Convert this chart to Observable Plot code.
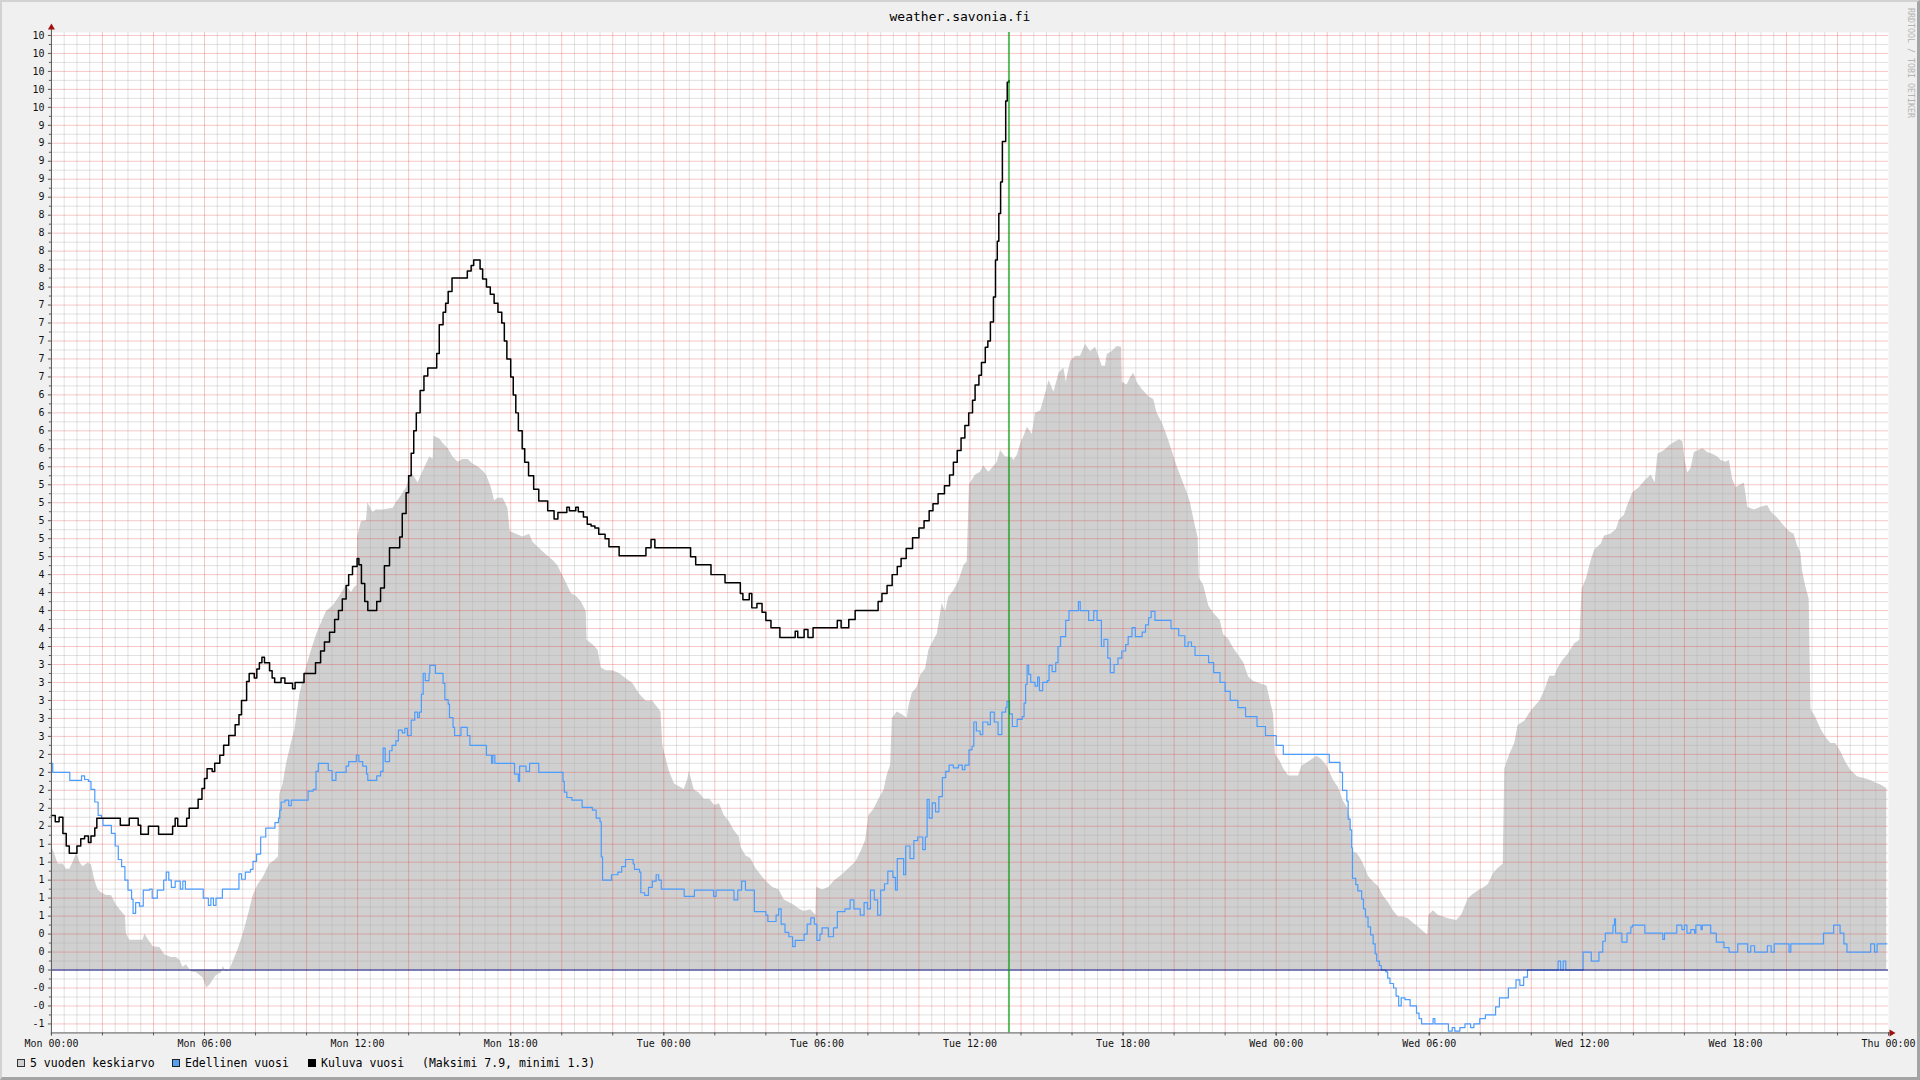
<!DOCTYPE html>
<html>
<head>
<meta charset="utf-8">
<script src="https://cdn.jsdelivr.net/npm/d3@7"></script>
<script src="https://cdn.jsdelivr.net/npm/@observablehq/plot@0.6"></script>
<style>
  html, body { margin: 0; padding: 0; overflow: hidden; background: #f0f0f0; }
  #frame { position: relative; width: 1920px; height: 1080px; box-sizing: border-box;
    border-top: 2px solid #d2d2d2; border-left: 2px solid #d2d2d2;
    border-right: 3px solid #a4a4a4; border-bottom: 3px solid #a4a4a4;
    font-family: "DejaVu Sans Mono", monospace; color: #000; }
  #title { position: absolute; top: 7px; left: -2px; width: 1920px; text-align: center; font-size: 13px; line-height: 16px; }
  #chart { position: absolute; top: 24px; left: -2px; }
  #legend { position: absolute; top: 1053px; left: -2px; font-size: 11.5px; line-height: 16px; }
  #legend .box { position: absolute; top: 4px; width: 8px; height: 8px; box-sizing: border-box; border: 1px solid #000; }
  #legend .txt { position: absolute; top: 0; white-space: pre; }
  #credit { position: absolute; top: 6px; left: 1904px; writing-mode: vertical-rl; font-size: 8.3px; color: #b4b4b4; white-space: pre; }
</style>
</head>
<body>
<div id="frame">
  <div id="title"></div>
  <div id="chart"></div>
  <div id="legend"></div>
  <div id="credit">RRDTOOL / TOBI OETIKER</div>
</div>
<script>
// ---- texts ----
const chartTitle = "weather.savonia.fi";
const xTickHours = [0, 6, 12, 18, 24, 30, 36, 42, 48, 54, 60, 66, 72];
const xTickLabels = ["Mon 00:00", "Mon 06:00", "Mon 12:00", "Mon 18:00", "Tue 00:00", "Tue 06:00",
  "Tue 12:00", "Tue 18:00", "Wed 00:00", "Wed 06:00", "Wed 12:00", "Wed 18:00", "Thu 00:00"];
const seriesNames = ["5 vuoden keskiarvo", "Edellinen vuosi", "Kuluva vuosi"];
const legendNote = "(Maksimi 7.9, minimi 1.3)";
const nowHour = 37.53;            // green "now" marker, hours after Mon 00:00
const xDomain = [0, 72];
const yDomain = [-0.7, 10.433];

// ---- 5-year average (grey area): [hours, value] ----
const avgSeries = [
[0.00,1.38],[0.13,1.29],[0.26,1.18],[0.46,1.18],[0.59,1.12],[0.72,1.12],[0.85,1.20],[0.98,1.29],[1.05,1.26],[1.11,1.20],
[1.24,1.15],[1.44,1.19],[1.57,1.17],[1.70,1.00],[1.83,0.89],[1.96,0.86],[2.16,0.83],[2.35,0.83],[2.55,0.72],[2.81,0.63],
[2.90,0.60],[2.94,0.40],[3.07,0.33],[3.59,0.33],[3.66,0.40],[3.79,0.34],[3.99,0.26],[4.25,0.25],[4.44,0.17],[4.70,0.14],
[4.90,0.14],[5.03,0.11],[5.16,0.03],[5.29,0.06],[5.49,-0.02],[5.69,-0.03],[5.95,-0.09],[6.08,-0.20],[6.21,-0.17],[6.34,-0.11],
[6.47,-0.06],[6.67,-0.03],[6.73,0.04],[6.86,-0.02],[6.99,0.00],[7.12,0.09],[7.32,0.23],[7.52,0.40],[7.71,0.60],[7.91,0.83],
[8.10,0.95],[8.30,1.03],[8.56,1.18],[8.76,1.22],[8.90,1.26],[8.95,1.95],[9.08,2.07],[9.22,2.30],[9.41,2.53],[9.54,2.67],
[9.74,3.07],[9.93,3.30],[10.13,3.50],[10.39,3.73],[10.52,3.82],[10.78,3.99],[11.04,4.05],[11.30,4.16],[11.56,4.28],[11.76,4.20],
[11.89,4.26],[11.98,4.28],[12.00,4.82],[12.15,4.99],[12.35,5.00],[12.40,5.20],[12.60,5.09],[12.74,5.12],[13.00,5.12],[13.39,5.14],
[13.52,5.20],[13.72,5.28],[13.92,5.37],[14.11,5.54],[14.24,5.48],[14.37,5.42],[14.50,5.51],[14.70,5.63],[14.83,5.71],[14.96,5.68],
[14.99,5.94],[15.22,5.91],[15.35,5.86],[15.55,5.80],[15.74,5.71],[15.94,5.65],[16.13,5.68],[16.33,5.68],[16.52,5.63],[16.72,5.60],
[16.92,5.55],[17.05,5.51],[17.24,5.37],[17.37,5.22],[17.50,5.25],[17.70,5.25],[17.89,5.14],[17.98,4.88],[18.22,4.85],[18.48,4.82],
[18.74,4.85],[18.87,4.76],[19.13,4.69],[19.39,4.62],[19.65,4.56],[19.85,4.50],[19.98,4.42],[20.18,4.31],[20.37,4.19],[20.57,4.16],
[20.76,4.10],[20.96,3.99],[20.99,3.67],[21.22,3.62],[21.42,3.56],[21.55,3.36],[21.75,3.33],[22.00,3.33],[22.26,3.30],[22.52,3.24],
[22.78,3.19],[23.05,3.07],[23.31,2.99],[23.57,2.99],[23.89,2.87],[23.96,2.50],[24.09,2.35],[24.22,2.21],[24.42,2.07],[24.61,2.04],
[24.80,2.01],[24.94,2.12],[25.00,2.21],[25.20,2.00],[25.39,1.97],[25.59,1.90],[25.80,1.90],[26.00,1.83],[26.18,1.85],[26.37,1.72],
[26.57,1.65],[26.76,1.55],[26.96,1.48],[27.02,1.37],[27.22,1.27],[27.41,1.24],[27.61,1.13],[27.80,1.06],[28.00,0.99],[28.26,0.92],
[28.52,0.89],[28.72,0.78],[28.91,0.75],[29.11,0.72],[29.30,0.68],[29.50,0.65],[29.76,0.67],[29.96,0.61],[29.99,0.92],[30.22,0.89],
[30.48,0.92],[30.68,0.99],[31.00,1.06],[31.26,1.13],[31.52,1.20],[31.72,1.31],[31.91,1.44],[32.04,1.72],[32.24,1.79],[32.43,1.90],
[32.63,2.00],[32.76,2.17],[32.89,2.28],[32.96,2.80],[33.15,2.87],[33.35,2.84],[33.54,2.80],[33.61,2.94],[33.74,3.08],[33.94,3.15],
[34.07,3.28],[34.26,3.35],[34.39,3.56],[34.52,3.63],[34.72,3.74],[34.91,4.08],[35.04,3.98],[35.17,4.15],[35.37,4.22],[35.57,4.33],
[35.76,4.50],[35.89,4.54],[35.98,5.40],[36.22,5.51],[36.41,5.54],[36.54,5.61],[36.74,5.54],[36.87,5.58],[37.07,5.65],[37.20,5.78],
[37.39,5.71],[37.52,5.71],[37.65,5.70],[37.72,5.67],[37.86,5.73],[37.99,5.86],[38.12,5.94],[38.25,6.04],[38.44,5.96],[38.57,6.20],
[38.77,6.22],[38.96,6.41],[39.10,6.56],[39.29,6.43],[39.49,6.64],[39.68,6.70],[39.77,6.54],[39.94,6.77],[40.14,6.83],[40.33,6.83],
[40.53,6.96],[40.73,6.88],[40.92,6.93],[41.05,6.83],[41.18,6.72],[41.31,6.72],[41.38,6.85],[41.57,6.88],[41.77,6.94],[41.94,6.93],
[41.97,6.54],[42.16,6.51],[42.29,6.59],[42.42,6.64],[42.55,6.54],[42.75,6.46],[43.01,6.38],[43.20,6.35],[43.33,6.20],[43.53,6.09],
[43.73,5.94],[43.92,5.78],[44.12,5.60],[44.31,5.46],[44.51,5.31],[44.64,5.20],[44.77,5.02],[44.94,4.81],[44.99,4.36],[45.16,4.28],
[45.36,4.05],[45.55,3.97],[45.81,3.89],[45.94,3.73],[46.14,3.68],[46.33,3.58],[46.53,3.50],[46.73,3.42],[46.92,3.26],[47.12,3.21],
[47.44,3.18],[47.64,3.16],[47.77,3.00],[47.90,2.84],[47.97,2.40],[48.16,2.32],[48.29,2.24],[48.49,2.16],[48.88,2.16],[49.01,2.27],
[49.20,2.30],[49.40,2.34],[49.60,2.38],[49.79,2.34],[49.99,2.27],[50.12,2.19],[50.25,2.11],[50.44,2.03],[50.63,1.88],[50.83,1.79],
[50.90,1.70],[50.99,1.32],[51.16,1.30],[51.29,1.25],[51.42,1.18],[51.62,1.04],[51.81,0.98],[52.01,0.93],[52.20,0.82],[52.40,0.75],
[52.59,0.66],[52.79,0.59],[52.98,0.59],[53.18,0.57],[53.38,0.52],[53.57,0.48],[53.77,0.43],[53.94,0.39],[53.99,0.61],[54.16,0.66],
[54.35,0.61],[54.55,0.59],[54.75,0.57],[55.07,0.55],[55.27,0.61],[55.40,0.70],[55.53,0.79],[55.72,0.84],[55.92,0.88],[56.11,0.91],
[56.31,0.95],[56.51,1.07],[56.70,1.13],[56.90,1.18],[56.96,2.24],[57.16,2.40],[57.35,2.52],[57.48,2.72],[57.75,2.77],[57.94,2.86],
[58.14,2.93],[58.33,2.99],[58.53,3.11],[58.72,3.27],[58.92,3.27],[59.05,3.36],[59.25,3.45],[59.44,3.51],[59.70,3.63],[59.90,3.67],
[59.99,4.24],[60.16,4.35],[60.35,4.56],[60.48,4.67],[60.74,4.74],[60.87,4.83],[61.11,4.85],[61.33,4.90],[61.46,5.01],[61.65,5.06],
[61.78,5.17],[61.98,5.31],[62.24,5.37],[62.44,5.44],[62.70,5.51],[62.85,5.42],[62.96,5.74],[63.22,5.78],[63.41,5.83],[63.61,5.87],
[63.81,5.90],[63.94,5.88],[64.03,5.67],[64.13,5.53],[64.26,5.58],[64.39,5.76],[64.72,5.80],[64.91,5.76],[65.11,5.74],[65.31,5.71],
[65.44,5.67],[65.63,5.65],[65.76,5.67],[65.89,5.46],[66.02,5.37],[66.35,5.42],[66.48,5.15],[66.74,5.12],[67.00,5.15],[67.26,5.17],
[67.39,5.10],[67.65,5.03],[67.91,4.94],[68.11,4.88],[68.30,4.85],[68.43,4.72],[68.56,4.65],[68.63,4.44],[68.76,4.26],[68.89,4.13],
[68.96,2.90],[69.15,2.81],[69.35,2.68],[69.54,2.59],[69.74,2.52],[69.93,2.52],[70.13,2.43],[70.33,2.31],[70.52,2.22],[70.78,2.15],
[71.04,2.13],[71.30,2.11],[71.50,2.08],[71.70,2.06],[71.93,2.02]
];

// ---- previous year (blue line): [hours, value] ----
const prevSeries = [
[0.00,2.30],[0.05,2.20],[0.72,2.11],[1.18,2.16],[1.30,2.12],[1.45,2.10],[1.55,2.01],[1.70,1.87],[1.83,1.72],[1.96,1.69],
[2.02,1.61],[2.35,1.52],[2.50,1.38],[2.62,1.23],[2.75,1.15],[2.88,1.00],[3.00,0.89],[3.14,0.79],[3.20,0.63],[3.30,0.75],
[3.45,0.71],[3.60,0.89],[3.85,0.90],[3.95,0.80],[4.15,0.89],[4.40,1.00],[4.50,1.09],[4.60,1.00],[4.70,0.92],[4.85,0.99],
[5.05,0.90],[5.15,0.99],[5.25,0.90],[5.95,0.80],[6.15,0.72],[6.25,0.80],[6.35,0.72],[6.45,0.80],[6.70,0.90],[7.35,1.07],
[7.45,1.01],[7.60,1.09],[7.80,1.12],[7.90,1.21],[8.04,1.29],[8.20,1.48],[8.40,1.58],[8.76,1.64],[8.90,1.69],[8.95,1.78],
[9.00,1.87],[9.15,1.89],[9.30,1.83],[9.40,1.89],[10.06,1.99],[10.26,2.01],[10.37,2.21],[10.46,2.30],[10.85,2.22],[11.00,2.11],
[11.15,2.20],[11.55,2.27],[11.65,2.32],[11.95,2.39],[12.05,2.32],[12.20,2.27],[12.35,2.18],[12.40,2.11],[12.75,2.16],[12.90,2.21],
[13.00,2.47],[13.08,2.32],[13.25,2.44],[13.35,2.50],[13.50,2.55],[13.60,2.67],[13.75,2.64],[13.85,2.69],[13.95,2.61],[14.10,2.78],
[14.24,2.87],[14.35,2.81],[14.42,2.87],[14.50,3.07],[14.57,3.30],[14.65,3.22],[14.80,3.30],[14.83,3.39],[15.05,3.30],[15.35,3.19],
[15.42,3.01],[15.55,2.96],[15.60,2.81],[15.74,2.70],[15.80,2.61],[16.05,2.70],[16.30,2.61],[16.40,2.50],[17.05,2.39],[17.25,2.30],
[17.30,2.39],[17.38,2.30],[18.15,2.18],[18.30,2.10],[18.35,2.27],[18.60,2.21],[18.74,2.30],[19.10,2.20],[20.05,2.10],[20.10,1.98],
[20.20,1.92],[20.40,1.89],[20.80,1.81],[21.20,1.78],[21.35,1.69],[21.50,1.65],[21.55,1.26],[21.60,1.00],[21.95,1.06],[22.20,1.09],
[22.35,1.15],[22.50,1.23],[22.80,1.18],[22.85,1.12],[23.05,1.09],[23.10,0.86],[23.25,0.83],[23.40,0.92],[23.55,0.99],[23.70,1.06],
[23.80,1.00],[23.90,0.90],[24.80,0.82],[25.20,0.89],[25.95,0.82],[26.05,0.89],[26.75,0.78],[26.90,0.89],[27.05,0.99],[27.20,0.89],
[27.55,0.65],[28.00,0.61],[28.08,0.54],[28.40,0.61],[28.50,0.68],[28.60,0.51],[28.75,0.42],[28.90,0.37],[29.05,0.26],[29.15,0.33],
[29.50,0.40],[29.62,0.51],[29.76,0.58],[29.90,0.51],[30.00,0.33],[30.12,0.40],[30.20,0.47],[30.45,0.37],[30.65,0.47],[30.80,0.65],
[31.10,0.68],[31.30,0.78],[31.45,0.68],[31.70,0.61],[31.85,0.75],[31.98,0.68],[32.10,0.89],[32.25,0.78],[32.38,0.61],[32.50,0.89],
[32.65,0.96],[32.78,1.10],[32.98,1.03],[33.08,0.89],[33.15,1.24],[33.40,1.06],[33.48,1.38],[33.65,1.24],[33.80,1.44],[33.95,1.48],
[34.15,1.34],[34.25,1.48],[34.32,1.90],[34.40,1.69],[34.52,1.86],[34.65,1.76],[34.78,1.93],[34.92,2.14],[35.05,2.21],[35.18,2.28],
[35.35,2.25],[35.55,2.28],[35.70,2.23],[35.80,2.28],[35.96,2.45],[36.08,2.49],[36.15,2.76],[36.25,2.66],[36.40,2.62],[36.50,2.76],
[36.70,2.73],[36.80,2.87],[36.95,2.76],[37.10,2.62],[37.25,2.87],[37.40,2.92],[37.45,2.99],[37.55,2.85],[37.66,2.71],[37.85,2.79],
[38.05,2.82],[38.12,2.97],[38.18,3.18],[38.24,3.39],[38.30,3.29],[38.38,3.20],[38.55,3.16],[38.65,3.26],[38.72,3.11],[38.85,3.20],
[39.03,3.22],[39.10,3.39],[39.22,3.32],[39.36,3.42],[39.45,3.60],[39.55,3.71],[39.75,3.89],[39.88,4.00],[40.25,4.10],[40.32,4.00],
[40.65,3.89],[40.85,4.00],[40.98,3.89],[41.15,3.60],[41.25,3.68],[41.40,3.47],[41.50,3.31],[41.65,3.40],[41.80,3.47],[41.95,3.55],
[42.10,3.62],[42.20,3.71],[42.35,3.81],[42.48,3.71],[42.75,3.76],[42.88,3.84],[43.00,3.92],[43.10,3.99],[43.25,3.89],[43.88,3.80],
[44.18,3.72],[44.42,3.60],[44.55,3.65],[44.68,3.60],[44.82,3.50],[45.35,3.42],[45.55,3.31],[45.80,3.20],[46.00,3.10],[46.20,3.00],
[46.50,2.92],[46.80,2.82],[47.25,2.71],[47.58,2.61],[48.00,2.50],[48.28,2.40],[50.08,2.31],[50.50,2.20],[50.60,2.00],[50.77,1.88],
[50.82,1.68],[50.90,1.56],[50.96,1.36],[50.99,1.02],[51.12,0.95],[51.20,0.88],[51.35,0.79],[51.42,0.68],[51.50,0.59],[51.60,0.48],
[51.70,0.39],[51.80,0.29],[51.88,0.18],[51.94,0.10],[52.05,0.05],[52.12,0.00],[52.30,-0.02],[52.37,-0.09],[52.46,-0.15],[52.60,-0.20],
[52.70,-0.29],[52.80,-0.40],[52.90,-0.31],[53.05,-0.33],[53.25,-0.40],[53.50,-0.48],[53.60,-0.54],[53.70,-0.60],[54.15,-0.54],[54.22,-0.60],
[54.75,-0.68],[54.90,-0.64],[55.00,-0.68],[55.20,-0.64],[55.40,-0.60],[55.62,-0.64],[55.75,-0.60],[55.98,-0.54],[56.20,-0.50],[56.60,-0.41],
[56.75,-0.31],[57.10,-0.20],[57.40,-0.11],[57.55,-0.17],[57.70,-0.08],[57.85,0.00],[59.05,0.10],[59.15,0.00],[59.25,0.10],[59.35,0.00],
[60.03,0.20],[60.35,0.10],[60.65,0.20],[60.80,0.32],[60.90,0.41],[61.20,0.50],[61.26,0.57],[61.30,0.41],[61.55,0.31],[61.75,0.41],
[61.90,0.48],[61.97,0.50],[62.45,0.41],[63.15,0.34],[63.22,0.41],[63.70,0.50],[63.90,0.45],[64.00,0.50],[64.10,0.41],[64.25,0.45],
[64.40,0.41],[64.45,0.50],[64.65,0.45],[64.70,0.50],[65.03,0.41],[65.25,0.31],[65.55,0.25],[65.75,0.20],[66.09,0.29],[66.48,0.20],
[66.60,0.27],[66.75,0.20],[67.25,0.27],[67.40,0.20],[67.52,0.29],[68.10,0.20],[68.17,0.29],[69.45,0.41],[69.85,0.50],[70.10,0.41],
[70.25,0.29],[70.37,0.20],[71.30,0.29],[71.45,0.20],[71.55,0.29],[71.93,0.29]
];

// ---- current year (black line): [hours, value] ----
const currSeries = [
[0.00,1.72],[0.15,1.65],[0.30,1.70],[0.45,1.52],[0.58,1.38],[0.70,1.30],[1.00,1.38],[1.15,1.46],[1.30,1.49],[1.45,1.42],
[1.55,1.49],[1.70,1.58],[1.78,1.69],[2.70,1.61],[3.05,1.69],[3.40,1.61],[3.50,1.51],[3.80,1.60],[4.20,1.51],[4.75,1.60],
[4.85,1.69],[4.95,1.60],[5.30,1.69],[5.40,1.80],[5.75,1.90],[5.90,2.02],[6.00,2.13],[6.10,2.24],[6.30,2.21],[6.40,2.30],
[6.60,2.39],[6.75,2.50],[6.95,2.61],[7.20,2.73],[7.35,2.84],[7.45,3.00],[7.65,3.21],[7.75,3.30],[7.95,3.25],[8.05,3.35],
[8.15,3.42],[8.25,3.48],[8.35,3.42],[8.55,3.33],[8.65,3.25],[8.75,3.20],[9.00,3.25],[9.15,3.19],[9.45,3.13],[9.55,3.20],
[9.90,3.30],[10.35,3.42],[10.55,3.55],[10.70,3.65],[10.90,3.76],[11.10,3.90],[11.25,4.00],[11.40,4.13],[11.55,4.28],[11.65,4.40],
[11.80,4.49],[11.98,4.58],[12.05,4.51],[12.15,4.30],[12.28,4.10],[12.40,4.00],[12.75,4.10],[12.90,4.25],[13.05,4.50],[13.25,4.70],
[13.65,4.82],[13.75,5.08],[13.90,5.31],[14.00,5.50],[14.10,5.75],[14.20,6.00],[14.30,6.20],[14.45,6.45],[14.60,6.61],[14.75,6.70],
[15.10,6.86],[15.20,7.18],[15.35,7.32],[15.45,7.42],[15.55,7.55],[15.70,7.70],[16.30,7.78],[16.45,7.84],[16.55,7.90],[16.80,7.80],
[16.90,7.69],[17.05,7.60],[17.20,7.52],[17.35,7.42],[17.50,7.32],[17.65,7.20],[17.75,7.00],[17.85,6.80],[18.00,6.60],[18.10,6.40],
[18.20,6.20],[18.30,6.00],[18.45,5.80],[18.55,5.65],[18.70,5.50],[18.90,5.35],[19.10,5.22],[19.45,5.11],[19.70,5.02],[19.85,5.09],
[20.20,5.15],[20.30,5.11],[20.55,5.15],[20.65,5.10],[20.85,5.04],[21.00,4.96],[21.15,4.94],[21.30,4.92],[21.45,4.85],[21.70,4.80],
[21.85,4.71],[22.25,4.61],[23.30,4.70],[23.50,4.79],[23.65,4.70],[25.05,4.60],[25.25,4.51],[25.85,4.40],[26.40,4.31],[27.00,4.19],
[27.10,4.12],[27.35,4.19],[27.45,4.03],[27.65,4.08],[27.85,3.98],[28.00,3.89],[28.20,3.81],[28.55,3.70],[29.15,3.77],[29.25,3.70],
[29.50,3.79],[29.65,3.70],[29.85,3.81],[30.80,3.89],[30.95,3.81],[31.25,3.90],[31.50,4.00],[32.40,4.10],[32.55,4.19],[32.75,4.28],
[32.95,4.40],[33.15,4.49],[33.30,4.58],[33.50,4.69],[33.75,4.81],[34.00,4.92],[34.20,5.00],[34.40,5.11],[34.55,5.19],[34.75,5.30],
[35.00,5.39],[35.20,5.51],[35.35,5.65],[35.50,5.78],[35.65,5.92],[35.80,6.06],[35.95,6.20],[36.10,6.34],[36.20,6.51],[36.35,6.62],
[36.45,6.76],[36.60,6.93],[36.70,7.00],[36.80,7.21],[36.92,7.49],[37.00,7.90],[37.07,8.11],[37.13,8.42],[37.20,8.77],[37.27,9.22],
[37.40,9.67],[37.46,9.88],[37.53,9.90]
];

// ---- grid values ----
const majorY = d3.range(-3, 53).map(i => i / 5).filter(v => v !== 0);
const minorY = d3.range(-5, 104, 2).map(i => i / 10);
const majorX = d3.range(2, 72, 2);
const minorX = d3.range(1, 144).filter(k => k % 4 !== 0).map(k => k / 2);
const tickY = d3.range(-3, 53).map(i => i / 5);

const fx = d => d[0], fy = d => d[1];

const chart = Plot.plot({
  width: 1920,
  height: 1028,
  marginLeft: 51,
  marginRight: 29,
  marginTop: 6,
  marginBottom: 20,
  style: { fontFamily: "DejaVu Sans Mono", fontSize: "10px", background: "transparent", color: "#000", overflow: "visible" },
  x: { domain: xDomain },
  y: { domain: yDomain },
  marks: [
    Plot.frame({ fill: "white", stroke: "none" }),
    Plot.areaY(avgSeries, { x: fx, y: fy, fill: "#d0d0d0" }),
    Plot.ruleX(minorX, { stroke: "#b0b0b0", strokeOpacity: 0.38 }),
    Plot.ruleY(minorY, { stroke: "#b0b0b0", strokeOpacity: 0.38 }),
    Plot.ruleX(majorX, { stroke: "#e03030", strokeOpacity: 0.28 }),
    Plot.ruleY(majorY, { stroke: "#e03030", strokeOpacity: 0.28 }),
    Plot.line(prevSeries, { x: fx, y: fy, stroke: "#4a9cff", strokeWidth: 1.2, curve: "step-after" }),
    Plot.line(currSeries, { x: fx, y: fy, stroke: "#000", strokeWidth: 1.5, curve: "step-after" }),
    Plot.ruleY([0], { stroke: "#000070" }),
    Plot.ruleX([nowHour], { stroke: "#009a00", strokeWidth: 1.2 }),
    // axes
    Plot.ruleX([xDomain[0]], { stroke: "#555", y1: yDomain[0], y2: yDomain[1] + 0.06 }),
    Plot.ruleY([yDomain[0]], { stroke: "#555", x1: xDomain[0], x2: xDomain[1] + 0.08 }),
    Plot.dot([null], { frameAnchor: "top-left", dy: -5, symbol: "triangle", r: 2.6, fill: "#a01010", stroke: "none" }),
    Plot.dot([null], { frameAnchor: "bottom-right", dx: 3, symbol: "triangle", r: 2.6, fill: "#a01010", stroke: "none", rotate: 90 }),
    Plot.axisY(tickY, { tickSize: 3, tickPadding: 4, tickFormat: d => d.toFixed(0), stroke: "#555", fill: "#111", label: null }),
    Plot.axisY(minorY, { tickSize: 2, tickFormat: () => "", stroke: "#555", label: null }),
    Plot.axisX(d3.range(0, 73, 2), { tickSize: 3, tickFormat: () => "", stroke: "#555", label: null }),
    Plot.axisX(xTickHours, { tickSize: 3, tickPadding: 4, tickFormat: d => xTickLabels[xTickHours.indexOf(d)], stroke: "#555", fill: "#111", label: null })
  ]
});
document.getElementById("chart").appendChild(chart);
document.getElementById("title").textContent = chartTitle;

// legend
const legendItems = [
  { box: 17, text: 30, fill: "#d0d0d0", border: "#333", label: seriesNames[0] },
  { box: 172, text: 185, fill: "#55a0f0", border: "#222", label: seriesNames[1] },
  { box: 308, text: 321, fill: "#000", border: "#000", label: seriesNames[2] }
];
const legend = document.getElementById("legend");
for (const it of legendItems) {
  const b = document.createElement("div");
  b.className = "box"; b.style.left = it.box + "px"; b.style.background = it.fill; b.style.borderColor = it.border;
  legend.appendChild(b);
  const t = document.createElement("div");
  t.className = "txt"; t.style.left = it.text + "px"; t.textContent = it.label;
  legend.appendChild(t);
}
const note = document.createElement("div");
note.className = "txt"; note.style.left = "422px"; note.textContent = legendNote;
legend.appendChild(note);
</script>
</body>
</html>
